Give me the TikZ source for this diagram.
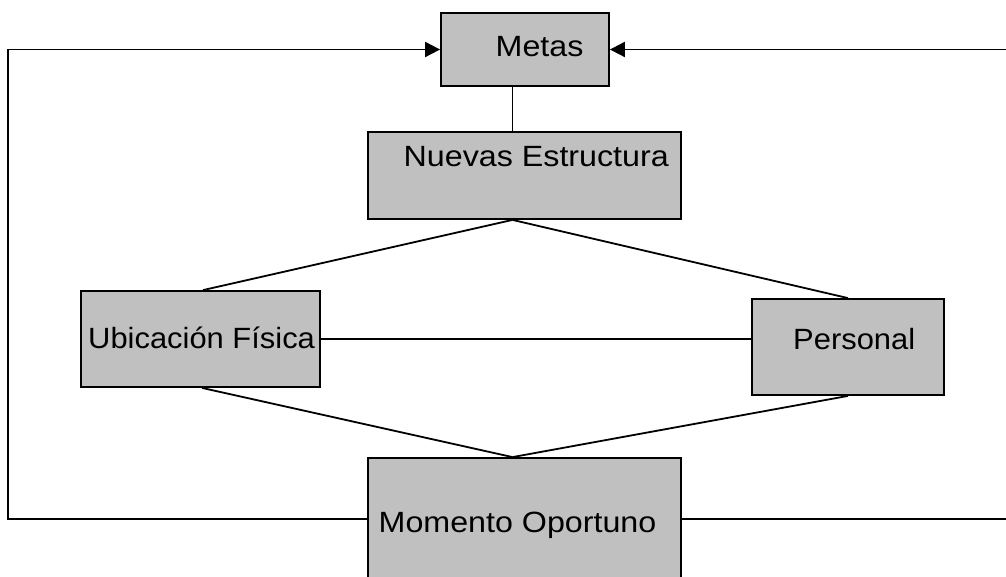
\documentclass[tikz,border=0pt]{standalone}
\usepackage{fontspec}
\setmainfont[FakeStretch=1.1]{Liberation Sans}
\newfontfamily\narrowsans[FakeStretch=1.055]{Liberation Sans}
\usetikzlibrary{arrows.meta}
\definecolor{boxgray}{HTML}{C0C0C0}
\begin{document}
\begin{tikzpicture}[x=1pt,y=-1pt,
  box/.style={draw=black, line width=1.8pt, fill=boxgray, inner sep=0pt},
  lbl/.style={inner sep=0pt, font=\fontsize{29.3}{35}\selectfont},
  lblnarrow/.style={inner sep=0pt, font=\narrowsans\fontsize{29.3}{35}\selectfont},
  link/.style={draw=black, line width=1.8pt},
  loop/.style={draw=black, line width=1.9pt, -{Triangle[length=15pt,width=15pt]}}]
\useasboundingbox (0,0) rectangle (1006,576);

% boxes
\node[box, minimum width=168pt, minimum height=73pt] (metas) at (525,49.5) {};
\node[box, minimum width=313pt, minimum height=87pt] (nuevas) at (524.5,175.5) {};
\node[box, minimum width=239pt, minimum height=96pt] (ubic) at (200.5,339) {};
\node[box, minimum width=192pt, minimum height=96pt] (pers) at (848,347) {};
\node[box, minimum width=313pt, minimum height=142pt] (mom) at (524.5,529) {};

% labels
\node[lbl, anchor=base west] (tmetas) at (495.5,56) {Metas};
\node[lbl, anchor=base west] (tnuevas) at (403.5,166) {Nuevas Estructura};
\node[lblnarrow, anchor=base west] (tubic) at (88,348) {Ubicación Física};
\node[lblnarrow, anchor=base west] (tpers) at (793,349) {Personal};
\node[lbl, anchor=base west] (tmom) at (378.5,532) {Momento Oportuno};

% helper coordinates
\coordinate (axis) at (512.5,0);
\coordinate (loopy) at (0,519);
\coordinate (lft) at (8,0);
\coordinate (rgt) at (1014,0);
\coordinate (utop) at (203,0);
\coordinate (ubot) at (202,0);

% connectors
\draw[link] (metas.south -| axis) -- (nuevas.north -| axis);
\draw[link] (nuevas.south -| axis) -- (ubic.north -| utop);
\draw[link] (nuevas.south -| axis) -- (pers.north);
\draw[link] (ubic.east) -- (ubic.east -| pers.west);
\draw[link] (ubic.south -| ubot) -- (mom.north -| axis);
\draw[link] (pers.south) -- (mom.north -| axis);
\draw[loop] (mom.west |- loopy) -- (lft |- loopy) -- (lft |- metas.west) -- (metas.west);
\draw[loop] (mom.east |- loopy) -- (rgt |- loopy) -- (rgt |- metas.east) -- (metas.east);
\end{tikzpicture}
\end{document}
